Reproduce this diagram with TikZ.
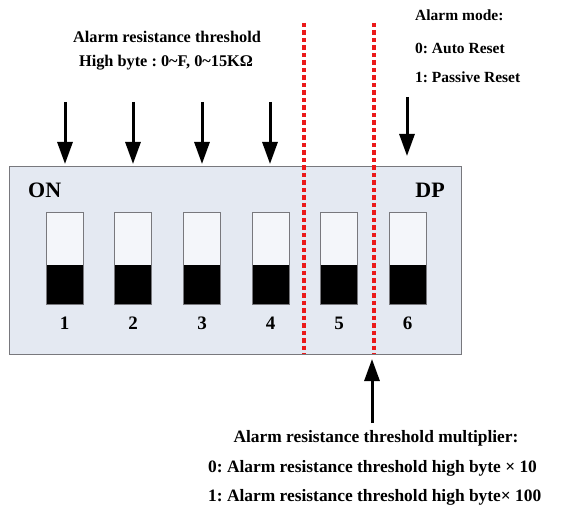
\documentclass[tikz,border=0pt]{standalone}
\usepackage{fontspec}
\setmainfont{Liberation Serif}
\usetikzlibrary{arrows.meta}
\frenchspacing
\definecolor{boxfill}{RGB}{228,233,242}
\definecolor{boxline}{RGB}{120,120,125}
\definecolor{swfill}{RGB}{244,246,250}
\definecolor{dashred}{RGB}{235,25,25}
\tikzset{
  lblm/.style={font=\bfseries\fontsize{15.5}{17}\selectfont, inner sep=0pt},
  lblt/.style={font=\bfseries\fontsize{16.3}{18}\selectfont, inner sep=0pt},
  lblb/.style={font=\bfseries\fontsize{17.4}{19}\selectfont, inner sep=0pt},
  big/.style={font=\bfseries\fontsize{22}{24}\selectfont, inner sep=0pt},
  num/.style={font=\bfseries\fontsize{19}{21}\selectfont, inner sep=0pt},
  swbox/.style={draw=boxline, line width=1pt, fill=swfill, minimum width=37pt, minimum height=91pt, inner sep=0pt,
    path picture={\fill[black] ([yshift=39pt]path picture bounding box.south west) rectangle (path picture bounding box.south east);}},
  bigarrow/.style={line width=3pt, -{Triangle[width=15pt,length=22pt]}},
  sep/.style={draw=dashred, line width=3.2pt, dash pattern=on 4.5pt off 3pt}
}
\begin{document}
\begin{tikzpicture}[x=1pt,y=-1pt]
\useasboundingbox (0,0) rectangle (571,508);
% main box
\node[draw=boxline, line width=1pt, fill=boxfill, minimum width=452pt, minimum height=187pt, inner sep=0pt] (box) at (235,260.5) {};
\node[big, anchor=west] (on) at (28,190) {ON};
\node[big, anchor=east] (dp) at (445,190) {DP};
% switches
\foreach \i/\x in {1/64.5,2/133,3/202,4/270.5,5/339,6/407.5}{
  \node[swbox] (sw\i) at (\x,258.5) {};
  \node[num] (n\i) at (\x,323) {\i};
}
% red separators
\coordinate (s1t) at (304,23);
\coordinate (s1b) at (304,354);
\coordinate (s2t) at (374,23);
\coordinate (s2b) at (374,354);
\draw[sep] (s1t) -- (s1b);
\draw[sep] (s2t) -- (s2b);
% arrows on top
\foreach \i/\x in {1/65,2/133,3/202,4/270}{
  \coordinate (a\i) at (\x,102);
  \coordinate (t\i) at (\x,164);
  \draw[bigarrow] (a\i) -- (t\i);
}
\coordinate (a6) at (407,97);
\coordinate (t6) at (407,156);
\draw[bigarrow] (a6) -- (t6);
% bottom arrow
\coordinate (a5) at (372,423);
\coordinate (t5) at (372,359);
\draw[bigarrow] (a5) -- (t5);
% texts
\node[lblt] (h1) at (167,37) {Alarm resistance threshold};
\node[lblt] (h2) at (166,63) {High byte : 0\textasciitilde F, 0\textasciitilde 15KΩ};
\node[lblm, anchor=west] (m1) at (415,15) {Alarm mode:};
\node[lblm, anchor=west] (m2) at (415,48) {0: Auto Reset};
\node[lblm, anchor=west] (m3) at (415,77) {1: Passive Reset};
\node[lblb] (b1) at (376,438) {Alarm resistance threshold multiplier:};
\node[lblb, anchor=west] (b2) at (208,468) {0: Alarm resistance threshold high byte × 10};
\node[lblb, anchor=west] (b3) at (208,497) {1: Alarm resistance threshold high byte× 100};
\end{tikzpicture}
\end{document}
